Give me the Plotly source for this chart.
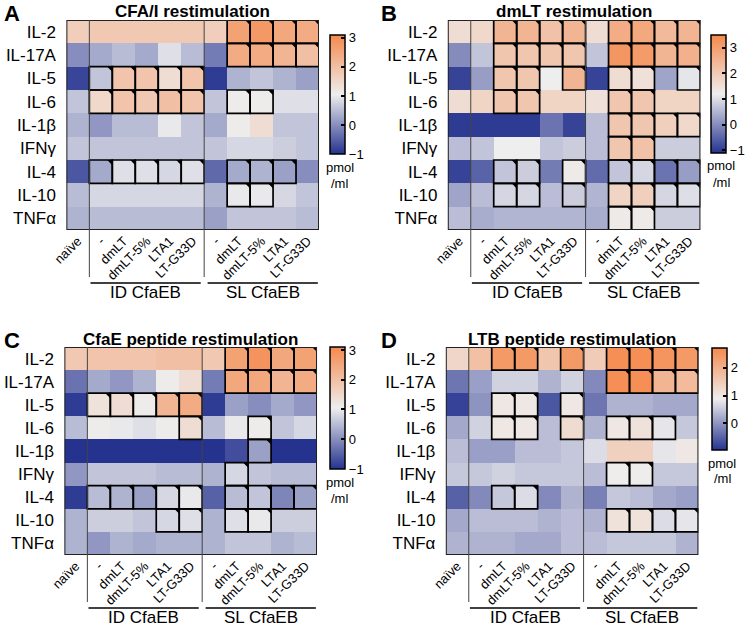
import plotly.graph_objects as go

W, H = 750, 627
FONT = "Arial, Liberation Sans, sans-serif"

cytokines = ["IL-2", "IL-17A", "IL-5", "IL-6", "IL-1β", "IFNγ", "IL-4", "IL-10", "TNFα"]
columns = ["naïve", "-", "dmLT", "dmLT-5%", "LTA1", "LT-G33D",
           "-", "dmLT", "dmLT-5%", "LTA1", "LT-G33D"]
groups = ["ID CfaEB", "SL CfaEB"]

# cytokine levels (pmol/ml, log scale), one row per cytokine, one value per column
z_a = [
    [1.7, 1.8, 1.8, 1.8, 1.8, 1.8, 1.7, 2.6, 2.8, 2.5, 2.4],
    [0.0, 0.3, 0.5, 0.3, 0.9, 0.5, -0.2, 2.4, 2.4, 2.2, 2.0],
    [-0.8, 0.6, 1.9, 1.9, 1.4, 1.9, -0.9, 0.4, 0.6, 0.4, 0.2],
    [0.6, 1.5, 1.9, 1.8, 2.0, 1.9, 0.6, 1.1, 1.1, 0.9, 0.9],
    [0.4, 0.1, 0.5, 0.5, 1.0, 0.6, 0.3, 1.1, 1.4, 0.6, 0.6],
    [0.6, 0.6, 0.6, 0.6, 0.6, 0.6, 0.6, 0.8, 0.8, 0.7, 0.6],
    [-0.6, 0.3, 0.9, 0.9, 0.8, 0.9, -0.4, 0.3, 0.4, 0.2, 0.0],
    [0.5, 0.8, 0.8, 0.8, 0.8, 0.8, 0.4, 1.0, 1.0, 0.8, 0.6],
    [0.4, 0.5, 0.5, 0.5, 0.5, 0.5, 0.2, 0.6, 0.6, 0.6, 0.5],
]
z_b = [
    [1.6, 1.7, 2.5, 2.5, 2.2, 2.5, 1.6, 2.7, 2.8, 2.4, 2.5],
    [0.0, 0.7, 2.1, 2.1, 2.1, 2.1, 0.7, 3.2, 3.1, 2.5, 2.6],
    [-0.9, 0.2, 2.1, 2.1, 1.2, 2.5, -0.9, 1.6, 1.5, 0.3, 1.1],
    [1.6, 1.8, 2.1, 2.1, 1.8, 1.8, 1.5, 2.1, 2.1, 1.8, 1.8],
    [-1.0, -1.0, -1.0, -1.0, -0.3, -0.9, 0.6, 2.1, 2.1, 1.9, 1.7],
    [0.6, 0.7, 1.2, 1.2, 0.7, 0.8, 0.6, 2.1, 2.2, 0.8, 0.8],
    [-0.9, -0.5, 0.7, 0.8, -0.2, 1.3, -0.4, 0.7, 0.9, -0.3, 0.2],
    [0.3, 0.6, 0.9, 0.9, 0.6, 0.8, 0.5, 1.8, 1.9, 0.9, 1.0],
    [0.6, 0.4, 0.5, 0.5, 0.5, 0.5, 0.4, 1.3, 1.3, 0.8, 0.8],
]
z_c = [
    [1.8, 1.9, 1.9, 1.9, 2.0, 2.0, 1.8, 2.6, 2.9, 2.5, 2.6],
    [-0.3, 0.3, 0.1, 0.4, 1.1, 1.4, -0.2, 2.5, 2.5, 2.2, 2.4],
    [-0.9, 1.3, 1.4, 1.1, 2.2, 2.4, -0.9, 0.2, 0.0, 0.3, 0.1],
    [0.5, 1.1, 1.0, 0.9, 1.1, 1.4, 0.5, 1.0, 1.1, 0.6, 0.8],
    [-1.0, -1.0, -1.0, -1.0, -1.0, -1.0, -1.0, -0.7, 0.2, -1.0, -1.0],
    [0.1, 0.6, 0.6, 0.6, 0.5, 0.5, 0.4, 0.8, 0.6, 0.5, 0.5],
    [-0.9, 0.5, 0.4, 0.2, 0.8, 1.0, -0.5, 0.5, 0.6, -0.1, 0.2],
    [0.4, 0.7, 0.7, 0.6, 0.8, 0.9, 0.4, 0.9, 1.0, 0.7, 0.7],
    [0.4, 0.1, 0.4, 0.3, 0.4, 0.4, 0.4, 0.6, 0.6, 0.4, 0.5],
]
z_d = [
    [1.3, 1.7, 2.4, 2.4, 1.6, 2.4, 1.5, 2.6, 2.6, 2.5, 2.4],
    [-0.3, 0.1, 0.6, 0.6, 0.3, 0.6, -0.1, 2.6, 2.6, 1.9, 1.8],
    [-0.8, 0.0, 1.0, 1.0, -0.6, 1.0, -0.3, 0.3, 0.3, 0.2, 0.2],
    [0.2, 0.6, 1.0, 1.0, 0.4, 1.2, 0.3, 1.0, 1.1, 0.8, 0.5],
    [0.4, 0.1, 0.1, 0.4, 0.4, 0.5, 0.7, 1.4, 1.4, 0.8, 1.0],
    [0.5, 0.5, 0.6, 0.5, 0.5, 0.5, 0.4, 0.9, 0.9, 0.5, 0.5],
    [-0.5, -0.1, 0.5, 0.7, -0.1, 0.3, -0.2, 0.5, 0.4, 0.2, 0.1],
    [0.2, 0.4, 0.4, 0.4, 0.3, 0.4, 0.3, 1.1, 1.1, 0.7, 0.8],
    [0.3, 0.3, 0.3, 0.2, 0.2, 0.4, 0.4, 0.5, 0.5, 0.5, 0.3],
]

# boxed (significant) cells: column indices per cytokine row
sig_a = [[7, 8, 9, 10], [7, 8, 9, 10], [1, 2, 3, 4, 5], [1, 2, 3, 4, 5, 7, 8],
         [], [], [1, 2, 3, 4, 5, 7, 8, 9], [7, 8], []]
sig_b = [[2, 3, 4, 5, 7, 8, 9, 10], [2, 3, 4, 5, 7, 8, 9, 10], [2, 3, 5, 7, 8, 10], [2, 3, 7, 8],
         [7, 8, 9, 10], [7, 8], [2, 3, 5, 7, 8, 9, 10], [2, 3, 5, 7, 8, 9, 10], [7, 8]]
sig_c = [[7, 8, 9, 10], [7, 8, 9, 10], [1, 2, 3, 4, 5], [5, 8],
         [8], [7], [1, 2, 3, 4, 5, 7, 8, 9, 10], [4, 5, 7, 8], []]
sig_d = [[2, 3, 5, 7, 8, 9, 10], [7, 8, 9, 10], [2, 3, 5], [2, 3, 5, 7, 8, 9],
         [], [7, 8], [2, 3], [7, 8, 9, 10], []]

colorscale = [[0.0, "#25338f"], [0.5, "#eeeeee"], [1.0, "#f5894d"]]

# letter, title, heatmap box px (x0, x1, y0, y1), colorbar px (x0, y0, y1), zmin, zmax, ticks
panels = [
    ("A", "CFA/I restimulation", z_a, sig_a, (67, 322, 20, 230), (333, 35, 154), -1.0, 3.1, [-1, 0, 1, 2, 3]),
    ("B", "dmLT restimulation", z_b, sig_b, (452, 707, 20, 230), (718, 35, 153), -1.1, 3.5, [-1, 0, 1, 2, 3]),
    ("C", "CfaE peptide restimulation", z_c, sig_c, (65, 320, 347, 555), (333, 347, 469), -1.0, 3.1, [-1, 0, 1, 2, 3]),
    ("D", "LTB peptide restimulation", z_d, sig_d, (450, 705, 347, 555), (719, 348, 450), -0.95, 2.7, [0, 1, 2]),
]


def py(px):
    return 1 - px / H


fig = go.Figure()
shapes = []
annotations = []

for i, (letter, title, z, sig, box, cb, zmin, zmax, cticks) in enumerate(panels, start=1):
    x0, x1, y0, y1 = box
    xa = "x" if i == 1 else f"x{i}"
    ya = "y" if i == 1 else f"y{i}"

    fig.add_trace(go.Heatmap(
        z=z, x=list(range(len(columns))), y=list(range(len(cytokines))),
        colorscale=colorscale, zmin=zmin, zmax=zmax,
        xaxis=xa, yaxis=ya,
        colorbar=dict(
            x=cb[0] / W, xanchor="left", y=py(cb[1]), yanchor="top",
            len=cb[2] - cb[1], lenmode="pixels", thickness=15, thicknessmode="pixels",
            xpad=0, ypad=0, outlinewidth=1.5, outlinecolor="black",
            ticks="inside", ticklen=4, tickwidth=1.5, tickcolor="black",
            tickvals=cticks, tickfont=dict(size=13, color="black", family=FONT),
        ),
    ))

    fig.update_layout({
        ("xaxis" if i == 1 else f"xaxis{i}"): dict(
            domain=[x0 / W, x1 / W], anchor=ya, range=[-0.5, 10.5], automargin=False,
            tickvals=list(range(len(columns))), ticktext=columns, tickangle=-45,
            tickfont=dict(size=13, color="black", family=FONT),
            showgrid=False, zeroline=False, ticks="", showline=False,
        ),
        ("yaxis" if i == 1 else f"yaxis{i}"): dict(
            domain=[py(y1), py(y0)], anchor=xa, range=[8.5, -0.5], automargin=False,
            tickvals=list(range(len(cytokines))), ticktext=cytokines,
            tickfont=dict(size=17, color="black", family=FONT),
            showgrid=False, zeroline=False, ticks="outside", ticklen=6, tickcolor="rgba(0,0,0,0)",
            showline=False,
        ),
    })
    xr, yr = xa, ya

    # significant cells: outline + corner triangle
    for r, cols in enumerate(sig):
        for c in cols:
            shapes.append(dict(type="rect", xref=xr, yref=yr, x0=c - 0.5, x1=c + 0.5,
                               y0=r - 0.5, y1=r + 0.5, line=dict(color="black", width=1.7)))
            t = 0.22
            shapes.append(dict(type="path", xref=xr, yref=yr,
                               path=f"M {c + 0.5 - t} {r - 0.5} L {c + 0.5} {r - 0.5} L {c + 0.5} {r - 0.5 + t} Z",
                               fillcolor="black", line=dict(color="black", width=0)))

    # outer border
    shapes.append(dict(type="rect", xref=xr, yref=yr, x0=-0.5, x1=10.5, y0=-0.5, y1=8.5,
                       line=dict(color="#222", width=2)))

    # group separators, extending below the heatmap
    for sx in (0.5, 5.5):
        shapes.append(dict(type="line", xref=xr, yref="paper", x0=sx, x1=sx,
                           y0=py(y0), y1=py(y1 + 47), line=dict(color="#444", width=1)))

    # group underlines and labels
    for gi, (g0, g1) in enumerate(((0.55, 5.35), (5.65, 10.45))):
        shapes.append(dict(type="line", xref=xr, yref="paper", x0=g0, x1=g1,
                           y0=py(y1 + 53), y1=py(y1 + 53), line=dict(color="black", width=1.5)))
        annotations.append(dict(xref=xr, yref="paper", x=(g0 + g1) / 2, y=py(y1 + 62),
                                text=groups[gi], showarrow=False, xanchor="center", yanchor="middle",
                                font=dict(size=17, color="black", family=FONT)))

    # title and panel letter
    annotations.append(dict(xref="paper", yref="paper", x=(x0 + x1) / 2 / W, y=py(y0 - 8),
                            text=f"<b>{title}</b>", showarrow=False, xanchor="center", yanchor="middle",
                            font=dict(size=17, color="black", family=FONT)))
    lx = 2 if i in (1, 3) else 383
    annotations.append(dict(xref="paper", yref="paper", x=lx / W, y=py(y0 - 7),
                            text=f"<b>{letter}</b>", showarrow=False, xanchor="left", yanchor="middle",
                            font=dict(size=22, color="black", family=FONT)))

    # colorbar unit
    annotations.append(dict(xref="paper", yref="paper", x=(cb[0] + 10) / W, y=py(cb[2] + 13),
                            text="pmol", showarrow=False, xanchor="center", yanchor="middle",
                            font=dict(size=13, color="black", family=FONT)))
    annotations.append(dict(xref="paper", yref="paper", x=(cb[0] + 10) / W, y=py(cb[2] + 29),
                            text="/ml", showarrow=False, xanchor="center", yanchor="middle",
                            font=dict(size=13, color="black", family=FONT)))

fig.update_layout(
    width=W, height=H, margin=dict(l=0, r=0, t=0, b=0),
    paper_bgcolor="white", plot_bgcolor="white",
    font=dict(family=FONT, color="black"),
    shapes=shapes, annotations=annotations,
)

# the page body has a default 8px margin; drop it so the figure sits at the window origin
fig.write_html("out.html", config={"displayModeBar": False},
               post_script="document.body.style.margin='0';")
